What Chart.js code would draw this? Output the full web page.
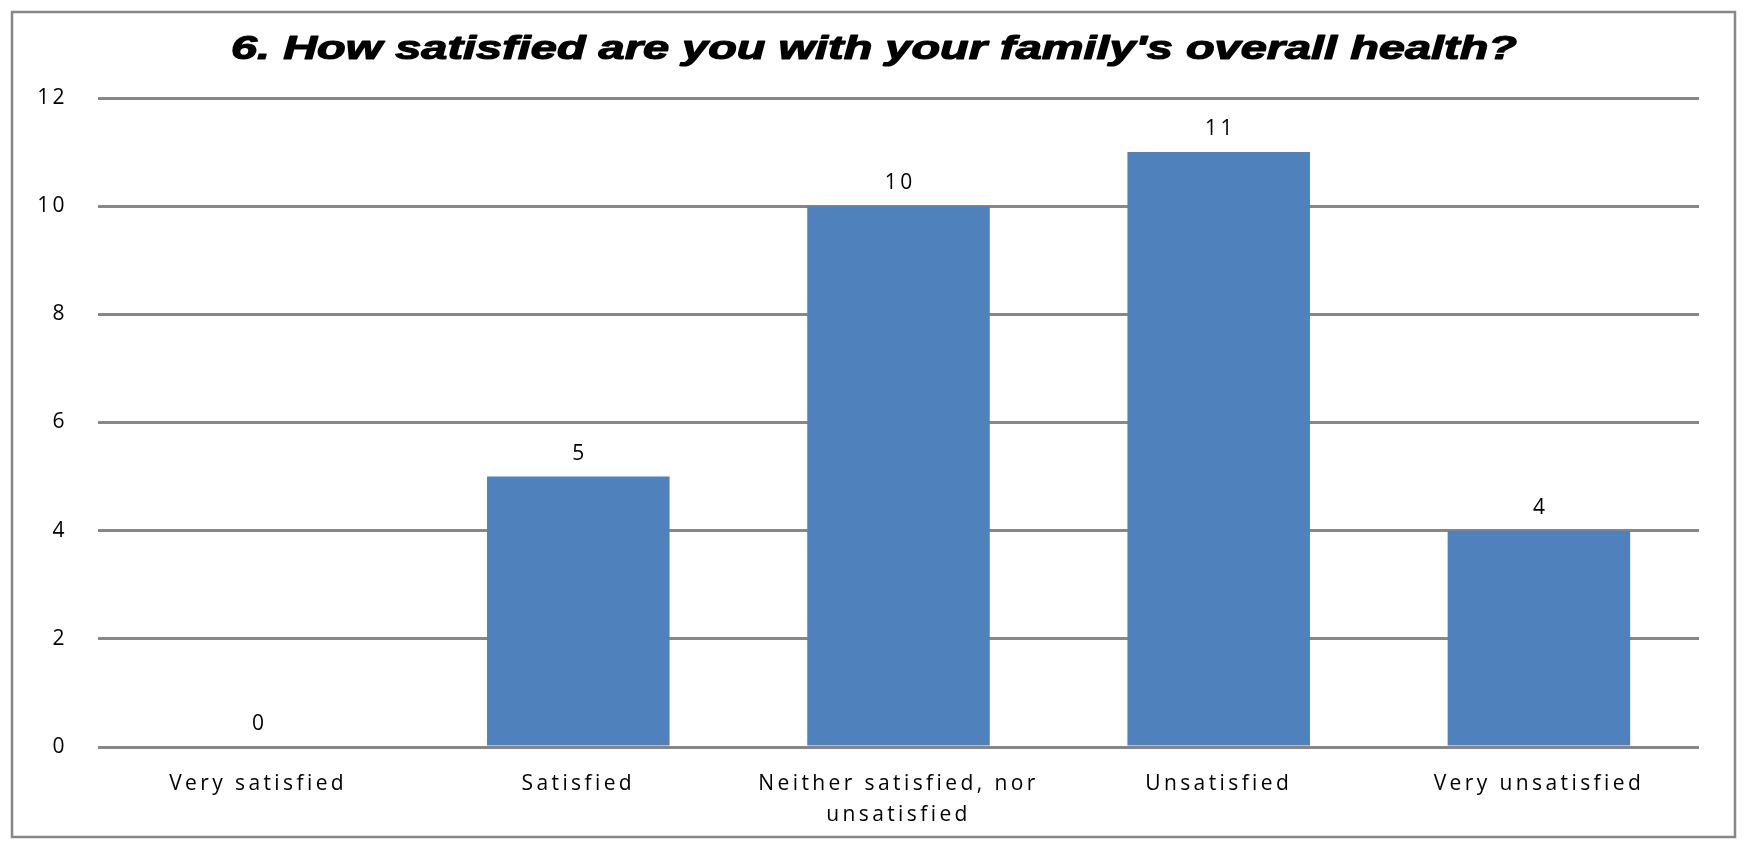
<!DOCTYPE html>
<html>
<head>
<meta charset="utf-8">
<script src="https://cdn.jsdelivr.net/npm/chart.js@4/dist/chart.umd.min.js"></script>
<style>
html, body { margin: 0; padding: 0; background: #fff; }
#wrap { position: relative; width: 1744px; height: 848px; }
</style>
</head>
<body>
<div id="wrap"><canvas id="c" width="1744" height="848"></canvas></div>
<script>
const titleText = "6. How satisfied are you with your family's overall health?";
const categories = [
  "Very satisfied",
  "Satisfied",
  ["Neither satisfied, nor", "unsatisfied"],
  "Unsatisfied",
  "Very unsatisfied"
];
const counts = [0, 5, 10, 11, 4];
const yMin = 0, yMax = 12, yStep = 2;

const textFont = { family: "'Open Sans', sans-serif", size: 21, lineHeight: 1.45 };
const spacing = '3.4px';

const spacingPlugin = {
  id: 'spacing',
  beforeLayout(chart) { chart.ctx.letterSpacing = spacing; },
  beforeDraw(chart) { chart.ctx.letterSpacing = spacing; }
};

const framePlugin = {
  id: 'frame',
  beforeDraw(chart) {
    const ctx = chart.ctx;
    ctx.save();
    ctx.fillStyle = '#fff';
    ctx.fillRect(0, 0, chart.width, chart.height);
    ctx.strokeStyle = '#878787';
    ctx.lineWidth = 2.5;
    ctx.strokeRect(12, 12, 1723, 825);
    ctx.restore();
  }
};

const titlePlugin = {
  id: 'stretchedTitle',
  afterDraw(chart) {
    const ctx = chart.ctx;
    ctx.save();
    ctx.letterSpacing = '0px';
    ctx.font = "italic bold 33px 'Liberation Sans', Arial, sans-serif";
    ctx.fillStyle = '#000';
    ctx.strokeStyle = '#000';
    ctx.lineWidth = 1.2;
    ctx.lineJoin = 'round';
    ctx.textAlign = 'center';
    ctx.textBaseline = 'alphabetic';
    const w = ctx.measureText(titleText).width;
    const sx = 1286 / w;
    ctx.translate(874, 59);
    ctx.scale(sx, 1);
    ctx.fillText(titleText, 0, 0);
    ctx.strokeText(titleText, 0, 0);
    ctx.restore();
  }
};

const valueLabels = {
  id: 'valueLabels',
  afterDatasetsDraw(chart) {
    const ctx = chart.ctx;
    const meta = chart.getDatasetMeta(0);
    ctx.save();
    ctx.letterSpacing = spacing;
    ctx.font = "21px 'Open Sans', sans-serif";
    ctx.fillStyle = '#000';
    ctx.textAlign = 'center';
    ctx.textBaseline = 'middle';
    meta.data.forEach((bar, i) => {
      ctx.fillText(String(counts[i]), bar.x + 1.7, bar.y - 23);
    });
    ctx.restore();
  }
};

new Chart(document.getElementById('c'), {
  type: 'bar',
  data: {
    labels: categories,
    datasets: [{
      data: counts,
      backgroundColor: '#4F81BD',
      borderWidth: 0,
      categoryPercentage: 1.0,
      barPercentage: 0.57
    }]
  },
  options: {
    responsive: false,
    animation: false,
    devicePixelRatio: 1,
    layout: { padding: { top: 98, right: 45, left: 0, bottom: 0 } },
    plugins: {
      legend: { display: false },
      title: { display: false },
      tooltip: { enabled: false }
    },
    scales: {
      x: {
        grid: { display: false },
        border: { display: false },
        ticks: {
          color: '#000',
          font: textFont,
          padding: 14,
          maxRotation: 0,
          autoSkip: false
        },
        afterFit(s) { s.height = 101; }
      },
      y: {
        min: yMin,
        max: yMax,
        grid: { color: '#878787', lineWidth: 3, drawTicks: false },
        border: { display: false },
        ticks: {
          stepSize: yStep,
          color: '#000',
          font: { family: "'Open Sans', sans-serif", size: 21 },
          padding: 30
        },
        afterFit(s) { s.width = 98; }
      }
    }
  },
  plugins: [spacingPlugin, framePlugin, valueLabels, titlePlugin]
});
</script>
</body>
</html>
